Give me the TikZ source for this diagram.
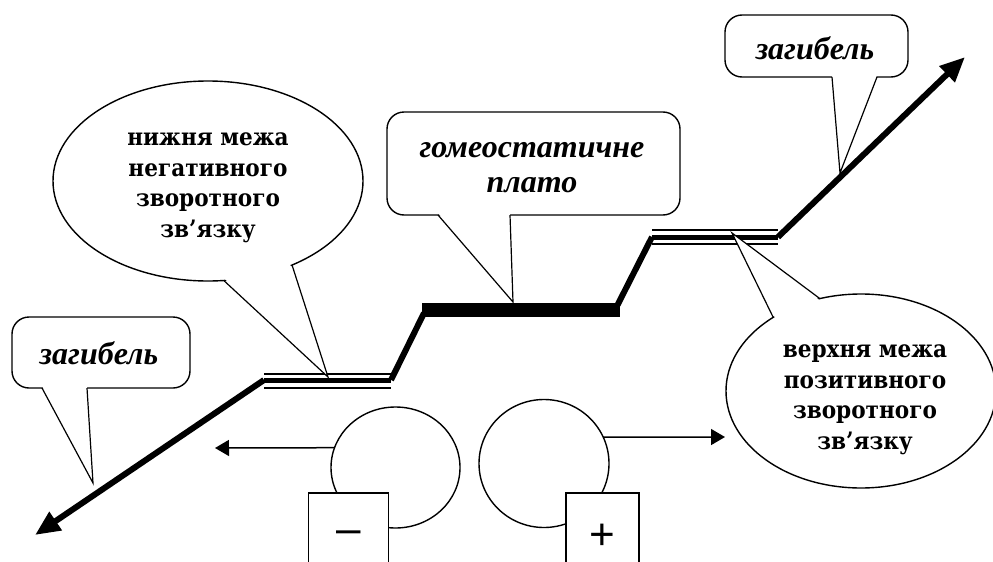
\documentclass[tikz,border=0pt]{standalone}
\usepackage{fontspec}
\setmainfont{Liberation Serif}
\newfontfamily\ovalfont[FakeStretch=0.9]{DejaVu Serif}
\newfontfamily\signfont{Liberation Sans}
\usetikzlibrary{shapes.geometric,arrows.meta,calc}

\begin{document}
\begin{tikzpicture}[x=1pt,y=-1pt,
  every node/.style={inner sep=0pt,outer sep=0pt},
  bubble/.style={draw,line width=1.4pt,fill=white,rounded corners=17pt},
  bubbletext/.style={align=center,font=\fontsize{32}{35}\selectfont\bfseries\itshape},
  oval/.style={draw,ellipse,line width=1.4pt,fill=white},
  ovaltext/.style={align=center,font=\ovalfont\fontsize{24}{30.5}\selectfont\bfseries},
  tail/.style={line width=1.2pt,line join=miter},
  mainline/.style={line width=6pt},
  plateau/.style={line width=14pt,line cap=butt},
  railthin/.style={line width=2pt},
  railthick/.style={line width=5pt},
  bigtip/.style={-{Triangle[length=25pt,width=21pt]}},
  smalltip/.style={line width=1.5pt,-{Triangle[length=14pt,width=16pt]}},
  ring/.style={draw,ellipse,line width=1.4pt},
  signbox/.style={draw,line width=1.4pt,fill=white,minimum height=88pt,
    font=\signfont\fontsize{44}{44}\selectfont},
]
\useasboundingbox (0,0) rectangle (993,562);

% stepped trajectory
\coordinate (a0) at (35,535);
\coordinate (a1) at (264,380);
\coordinate (a2) at (391,380);
\coordinate (a3) at (424,313);
\coordinate (p0) at (422,310);
\coordinate (p1) at (620,310);
\coordinate (a4) at (617,306);
\coordinate (a5) at (652,237);
\coordinate (a6) at (778,237);
\coordinate (a7) at (965,57);

\draw[mainline,bigtip] (a1) -- (a0);
\draw[railthick] (a1) -- (a2);
\draw[railthin] ($(a1)+(0,-6.5)$) -- ($(a2)+(0,-6.5)$);
\draw[railthin] ($(a1)+(0,7.5)$) -- ($(a2)+(0,7.5)$);
\draw[mainline] (a2) -- (a3);
\draw[plateau] (p0) -- (p1);
\draw[mainline] (a4) -- (a5);
\draw[railthick] (a5) -- (a6);
\draw[railthin] ($(a5)+(0,-7)$) -- ($(a6)+(0,-7)$);
\draw[railthin] ($(a5)+(0,7)$) -- ($(a6)+(0,7)$);
\draw[mainline,bigtip] (a6) -- (a7);

% callout: lower left
\node[bubble,minimum width=178pt,minimum height=71pt] (doomL) at (101,352.5) {};
\node[bubbletext] (doomLtxt) at (99,353) {загибель};
\coordinate (dLa) at (42,388);
\coordinate (dLb) at (87,388);
\coordinate (dLt) at (93,483);
\fill[white] ($(dLa)+(0,-2)$) -- (dLt) -- ($(dLb)+(0,-2)$) -- cycle;
\draw[tail] (dLa) -- (dLt) -- (dLb);

% callout: upper right
\node[bubble,minimum width=183pt,minimum height=62pt] (doomR) at (816.5,46) {};
\node[bubbletext] (doomRtxt) at (815,48) {загибель};
\coordinate (dRa) at (832,77);
\coordinate (dRb) at (877,77);
\coordinate (dRt) at (840,173);
\fill[white] ($(dRa)+(0,-2)$) -- (dRt) -- ($(dRb)+(0,-2)$) -- cycle;
\draw[tail] (dRa) -- (dRt) -- (dRb);

% callout: plateau
\node[bubble,minimum width=293pt,minimum height=103pt] (homeo) at (533.5,163.5) {};
\node[bubbletext] (homeotxt) at (532,168) {гомеостатичне\\плато};
\coordinate (hma) at (438,215);
\coordinate (hmb) at (510,215);
\coordinate (hmt) at (513,302);
\fill[white] ($(hma)+(0,-2)$) -- (hmt) -- ($(hmb)+(0,-2)$) -- cycle;
\draw[tail] (hma) -- (hmt) -- (hmb);

% oval callout: lower limit
\node[oval,minimum width=310pt,minimum height=200pt] (low) at (208,181) {};
\node[ovaltext] (lowtxt) at (208,188) {нижня межа\\негативного\\зворотного\\зв’язку};
\coordinate (lwt) at (328,377);
\fill[white] ($(low.center)!0.97!(low.-81)$) -- (lwt) -- ($(low.center)!0.97!(low.-45)$) -- cycle;
\draw[tail] (low.-81) -- (lwt) -- (low.-45);

% oval callout: upper limit
\node[oval,minimum width=270pt,minimum height=194pt] (up) at (861,391) {};
\node[ovaltext] (uptxt) at (865,400) {верхня межа\\позитивного\\зворотного\\зв’язку};
\coordinate (upt) at (732,233);
\fill[white] ($(up.center)!0.97!(up.140)$) -- (upt) -- ($(up.center)!0.97!(up.114)$) -- cycle;
\draw[tail] (up.140) -- (upt) -- (up.114);

% feedback signs
\node[ring,minimum width=129pt,minimum height=121pt] (lc) at (395.5,467.5) {};
\node[ring,minimum width=130pt,minimum height=128pt] (rc) at (544,463.5) {};
\coordinate (lcend) at (215,448);
\coordinate (rcend) at (725,437);
\draw[smalltip] (lc.162) -- (lcend);
\draw[smalltip] (rc.24) -- (rcend);
\node[signbox,minimum width=80pt] (minus) at (348.3,537) {–};
\node[signbox,minimum width=73pt] (plus) at (602.6,537) {+};
\end{tikzpicture}
\end{document}
